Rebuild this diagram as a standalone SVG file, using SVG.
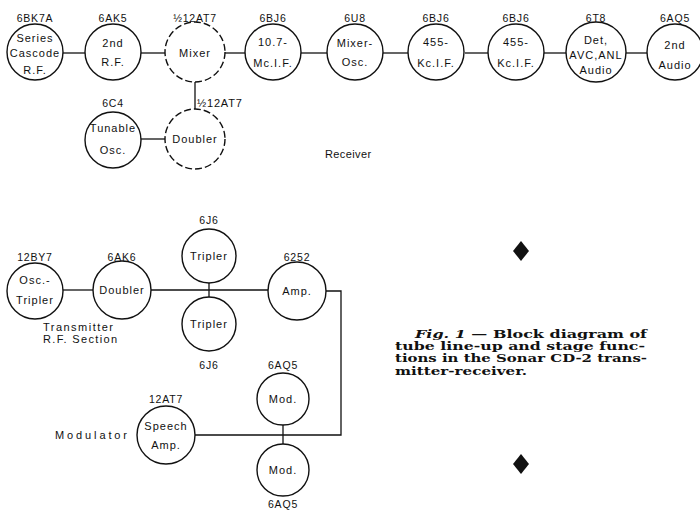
<svg xmlns="http://www.w3.org/2000/svg" width="700" height="511" viewBox="0 0 700 511">
<style>
.c{fill:none;stroke:#111;stroke-width:1.4}
.d{fill:none;stroke:#111;stroke-width:1.4;stroke-dasharray:7 3}
.n{font-family:"Liberation Sans",Arial,sans-serif;font-size:11px;letter-spacing:1px;fill:#111;text-anchor:middle}
.l{font-family:"Liberation Sans",Arial,sans-serif;font-size:10.5px;letter-spacing:0.8px;fill:#111;text-anchor:middle}
.t{font-family:"Liberation Sans",Arial,sans-serif;font-size:11px;fill:#111}
.cap{font-family:"DejaVu Serif","Liberation Serif",serif;font-size:10.6px;font-weight:bold;fill:#111}
.conn line,.conn polyline{fill:none;stroke:#111;stroke-width:1.3}
</style>
<rect width="700" height="511" fill="#fff"/>

<g class="conn">
<line x1="63" y1="53" x2="85" y2="53"/>
<line x1="141" y1="53" x2="165" y2="53"/>
<line x1="225" y1="53" x2="245" y2="53"/>
<line x1="301" y1="53" x2="327" y2="53"/>
<line x1="383" y1="53" x2="408" y2="53"/>
<line x1="465" y1="53" x2="488" y2="53"/>
<line x1="544" y1="53" x2="566" y2="53"/>
<line x1="626" y1="53" x2="647" y2="53"/>
<line x1="141" y1="139" x2="165" y2="139"/>
<line x1="195" y1="82" x2="195" y2="109"/>
<line x1="63" y1="290" x2="93" y2="290"/>
<line x1="151" y1="290" x2="268" y2="290"/>
<line x1="209" y1="283" x2="209" y2="297"/>
<polyline points="326,291 341,291 341,435 195,435"/>
<line x1="283" y1="425" x2="283" y2="444"/>
</g>

<!-- Receiver -->
<g id="series-cascode">
<circle class="c" cx="35" cy="52" r="28"/>
<text class="l" x="35" y="22">6BK7A</text>
<text class="n" x="35" y="42">Series</text>
<text class="n" x="35" y="57" letter-spacing="0.6">Cascode</text>
<text class="n" x="35" y="74">R.F.</text>
</g>
<g id="rf2">
<circle class="c" cx="113" cy="52" r="28"/>
<text class="l" x="113" y="22">6AK5</text>
<text class="n" x="113" y="47">2nd</text>
<text class="n" x="113" y="66">R.F.</text>
</g>
<g id="mixer">
<circle class="d" cx="195" cy="52" r="30"/>
<text class="l" x="195" y="22">½12AT7</text>
<text class="n" x="195" y="57">Mixer</text>
</g>
<g id="if107">
<circle class="c" cx="273" cy="52" r="28"/>
<text class="l" x="273" y="22">6BJ6</text>
<text class="n" x="273" y="46">10.7-</text>
<text class="n" x="273" y="67">Mc.I.F.</text>
</g>
<g id="mixer-osc">
<circle class="c" cx="355" cy="52" r="28"/>
<text class="l" x="355" y="22">6U8</text>
<text class="n" x="355" y="47">Mixer-</text>
<text class="n" x="355" y="66">Osc.</text>
</g>
<g id="if455a">
<circle class="c" cx="436" cy="52" r="28"/>
<text class="l" x="436" y="22">6BJ6</text>
<text class="n" x="436" y="46">455-</text>
<text class="n" x="436" y="67">Kc.I.F.</text>
</g>
<g id="if455b">
<circle class="c" cx="516" cy="52" r="28"/>
<text class="l" x="516" y="22">6BJ6</text>
<text class="n" x="516" y="46">455-</text>
<text class="n" x="516" y="67">Kc.I.F.</text>
</g>
<g id="det">
<circle class="c" cx="596" cy="52" r="30"/>
<text class="l" x="596" y="22">6T8</text>
<text class="n" x="596" y="44">Det,</text>
<text class="n" x="596" y="59" letter-spacing="0">AVC,ANL</text>
<text class="n" x="596" y="74">Audio</text>
</g>
<g id="audio2">
<circle class="c" cx="675" cy="52" r="28"/>
<text class="l" x="675" y="22">6AQ5</text>
<text class="n" x="675" y="49">2nd</text>
<text class="n" x="675" y="69">Audio</text>
</g>
<g id="tunable-osc">
<circle class="c" cx="113" cy="140" r="28"/>
<text class="l" x="113" y="107">6C4</text>
<text class="n" x="113" y="132">Tunable</text>
<text class="n" x="113" y="154">Osc.</text>
</g>
<g id="doubler-rx">
<circle class="d" cx="195" cy="139" r="30"/>
<text class="t" x="197" y="107" letter-spacing="0.8" font-size="10.5">½12AT7</text>
<text class="n" x="195" y="143">Doubler</text>
</g>
<text class="t" x="325" y="158" letter-spacing="0.4">Receiver</text>

<!-- Transmitter -->
<g id="osc-tripler">
<circle class="c" cx="35" cy="291" r="28"/>
<text class="l" x="35" y="261">12BY7</text>
<text class="n" x="35" y="284">Osc.-</text>
<text class="n" x="35" y="304">Tripler</text>
</g>
<g id="doubler-tx">
<circle class="c" cx="122" cy="290" r="29"/>
<text class="l" x="122" y="261">6AK6</text>
<text class="n" x="122" y="294">Doubler</text>
</g>
<g id="tripler-a">
<circle class="c" cx="209" cy="256" r="27"/>
<text class="l" x="209" y="224">6J6</text>
<text class="n" x="209" y="260">Tripler</text>
</g>
<g id="tripler-b">
<circle class="c" cx="209" cy="324" r="27"/>
<text class="n" x="209" y="328">Tripler</text>
<text class="l" x="209" y="369">6J6</text>
</g>
<g id="amp">
<circle class="c" cx="297" cy="291" r="29"/>
<text class="l" x="297" y="261">6252</text>
<text class="n" x="297" y="295">Amp.</text>
</g>
<text class="t" x="43" y="331" textLength="70">Transmitter</text>
<text class="t" x="43" y="343" textLength="74">R.F. Section</text>

<g id="speech-amp">
<circle class="c" cx="166" cy="435" r="29"/>
<text class="l" x="166" y="403">12AT7</text>
<text class="n" x="166" y="430">Speech</text>
<text class="n" x="166" y="449">Amp.</text>
</g>
<text class="t" x="55" y="439" textLength="72">Modulator</text>
<g id="mod-a">
<circle class="c" cx="283" cy="399" r="26"/>
<text class="l" x="283" y="369">6AQ5</text>
<text class="n" x="283" y="403">Mod.</text>
</g>
<g id="mod-b">
<circle class="c" cx="283" cy="470" r="26"/>
<text class="n" x="283" y="474">Mod.</text>
<text class="l" x="283" y="508">6AQ5</text>
</g>

<!-- Caption -->
<polygon points="521,241 529,251 521,261 513,251" fill="#111"/>
<text class="cap" x="415" y="338" textLength="232" lengthAdjust="spacingAndGlyphs"><tspan font-style="italic">Fig. 1</tspan> — Block diagram of</text>
<text class="cap" x="395" y="350.2" textLength="250" lengthAdjust="spacingAndGlyphs">tube line-up and stage func-</text>
<text class="cap" x="395" y="362.4" textLength="252" lengthAdjust="spacingAndGlyphs">tions in the Sonar CD-2 trans-</text>
<text class="cap" x="395" y="374.6" textLength="132" lengthAdjust="spacingAndGlyphs">mitter-receiver.</text>
<polygon points="521,454 529,464 521,474 513,464" fill="#111"/>
</svg>
